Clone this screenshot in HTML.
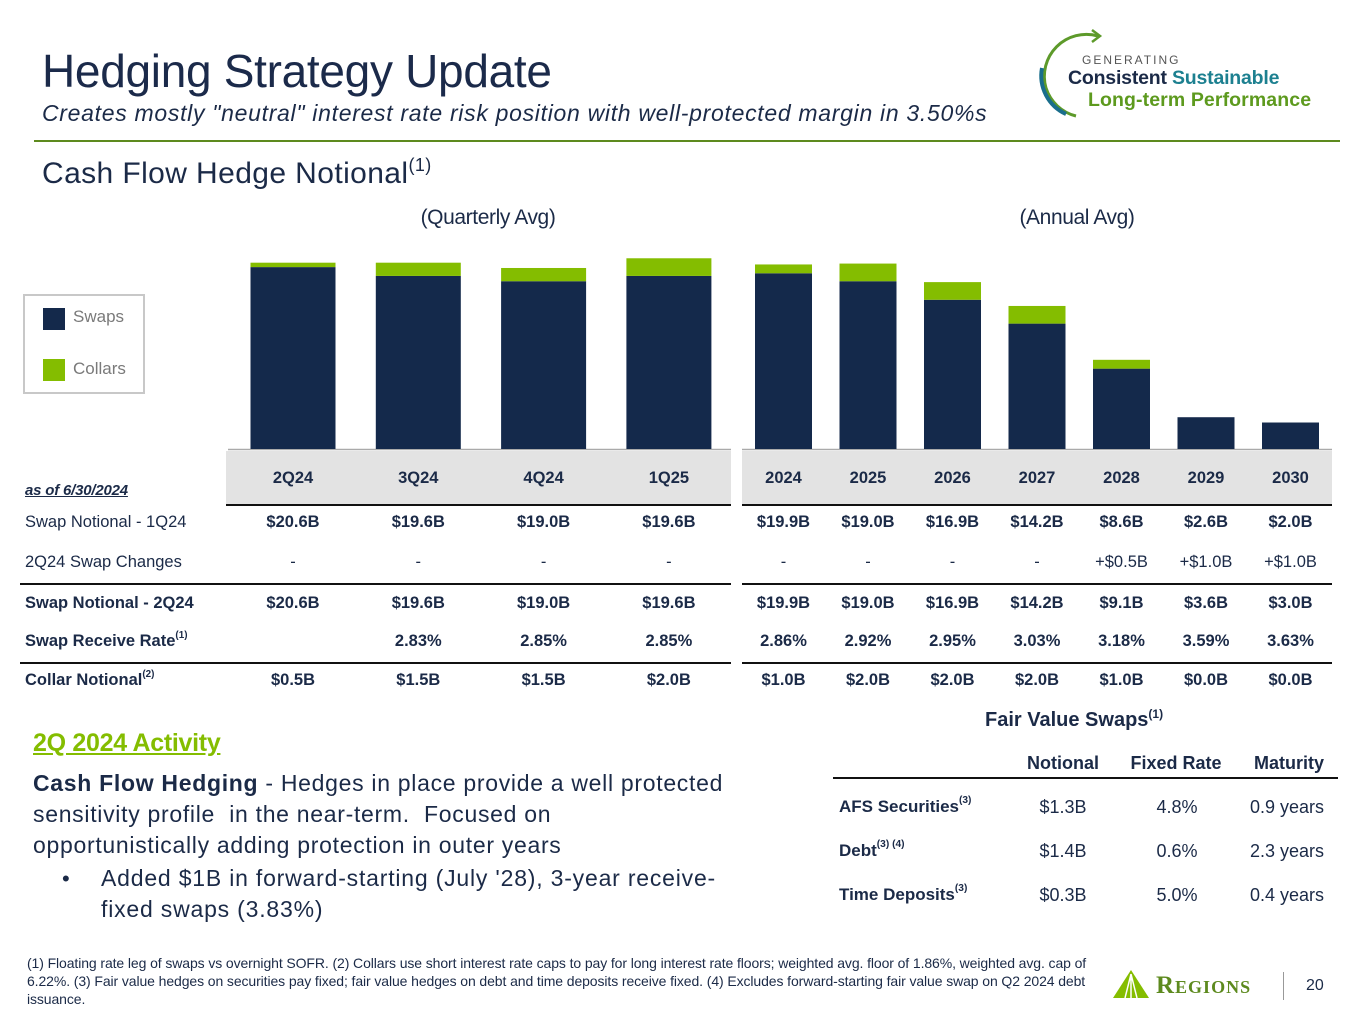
<!DOCTYPE html>
<html><head><meta charset="utf-8">
<style>
*{margin:0;padding:0;box-sizing:border-box}
body{width:1365px;height:1024px;background:#fff;position:relative;overflow:hidden;font-family:"Liberation Sans",sans-serif;color:#1b2a47}
.a{position:absolute;white-space:nowrap}
.c{transform:translateX(-50%);text-align:center}
.b{font-weight:bold}
sup{font-size:60%;vertical-align:top;position:relative;top:-2px}
.tx{font-size:16.5px;letter-spacing:0}
</style></head><body>
<div class="a" style="left:42px;top:44px;font-size:46px;letter-spacing:-0.3px;color:#1b2a4a">Hedging Strategy Update</div>
<div class="a" style="left:42px;top:100px;font-size:23px;font-style:italic;letter-spacing:0.7px">Creates mostly "neutral" interest rate risk position with well-protected margin in 3.50%s</div>
<div class="a" style="left:34px;top:140px;width:1306px;height:2px;background:#5d8a1e"></div>
<div class="a" style="left:42px;top:157px;font-size:30px;letter-spacing:0.4px">Cash Flow Hedge Notional<sup>(1)</sup></div>

<svg class="a" style="left:1036px;top:28px" width="70" height="90" viewBox="0 0 70 90">
<path d="M62 8 A42 42 0 0 0 10 60 A42 42 0 0 0 40 88" fill="none" stroke="#5d9a2a" stroke-width="3"/>
<path d="M56 2 L64 8 L56 14" fill="none" stroke="#5d9a2a" stroke-width="2.5"/>
<path d="M6 40 A42 42 0 0 0 30 86" fill="none" stroke="#1a6e8c" stroke-width="4"/>
</svg>
<div class="a" style="left:1082px;top:53px;font-size:12px;letter-spacing:2px;color:#555">GENERATING</div>
<div class="a b" style="left:1068px;top:67px;font-size:19.5px;letter-spacing:-0.2px;color:#1b2a47">Consistent <span style="color:#1d8090">Sustainable</span></div>
<div class="a b" style="left:1088px;top:89px;font-size:19.5px;letter-spacing:0.1px;color:#5d9a1e">Long-term Performance</div>

<div class="a c" style="left:488px;top:206px;font-size:21px;letter-spacing:-0.4px">(Quarterly Avg)</div>
<div class="a c" style="left:1077px;top:206px;font-size:21px;letter-spacing:-0.4px">(Annual Avg)</div>

<div class="a" style="left:23px;top:294px;width:122px;height:100px;border:2px solid #c8c8c8">
 <div class="a" style="left:18px;top:12px;width:22px;height:22px;background:#14294b"></div>
 <div class="a" style="left:48px;top:11px;font-size:17px;color:#7a7a7a">Swaps</div>
 <div class="a" style="left:18px;top:63px;width:22px;height:22px;background:#84bd00"></div>
 <div class="a" style="left:48px;top:63px;font-size:17px;color:#7a7a7a">Collars</div>
</div>

<svg id="chart" class="a" style="left:0;top:0" width="1365" height="460"></svg>

<div class="a" style="left:226px;top:451px;width:505px;height:53px;background:#e3e3e3"></div>
<div class="a" style="left:742px;top:451px;width:590px;height:53px;background:#e3e3e3"></div>
<div class="a" style="left:226px;top:504px;width:505px;height:2px;background:#111"></div>
<div class="a" style="left:742px;top:504px;width:590px;height:2px;background:#111"></div>
<div class="a" style="left:20px;top:583px;width:711px;height:2px;background:#111"></div>
<div class="a" style="left:742px;top:583px;width:590px;height:2px;background:#111"></div>
<div class="a" style="left:20px;top:662px;width:711px;height:2px;background:#111"></div>
<div class="a" style="left:742px;top:662px;width:590px;height:2px;background:#111"></div>
<div class="a b" style="left:25px;top:482px;font-size:15px;font-style:italic;text-decoration:underline;letter-spacing:-0.2px">as of 6/30/2024</div>
<div id="tbl"></div>

<div class="a b" style="left:985px;top:709px;font-size:20px;letter-spacing:0">Fair Value Swaps<sup>(1)</sup></div>
<div class="a b c" style="left:1063px;top:753px;font-size:18px">Notional</div>
<div class="a b c" style="left:1176px;top:753px;font-size:18px">Fixed Rate</div>
<div class="a b c" style="left:1289px;top:753px;font-size:18px">Maturity</div>
<div class="a" style="left:833px;top:777px;width:505px;height:2px;background:#111"></div>
<div class="a b" style="left:839px;top:797px;font-size:17px">AFS Securities<sup>(3)</sup></div>
<div class="a b" style="left:839px;top:841px;font-size:17px">Debt<sup>(3) (4)</sup></div>
<div class="a b" style="left:839px;top:885px;font-size:17px">Time Deposits<sup>(3)</sup></div>
<div class="a c" style="left:1063px;top:797px;font-size:18px">$1.3B</div>
<div class="a c" style="left:1177px;top:797px;font-size:18px">4.8%</div>
<div class="a c" style="left:1287px;top:797px;font-size:18px">0.9 years</div>
<div class="a c" style="left:1063px;top:841px;font-size:18px">$1.4B</div>
<div class="a c" style="left:1177px;top:841px;font-size:18px">0.6%</div>
<div class="a c" style="left:1287px;top:841px;font-size:18px">2.3 years</div>
<div class="a c" style="left:1063px;top:885px;font-size:18px">$0.3B</div>
<div class="a c" style="left:1177px;top:885px;font-size:18px">5.0%</div>
<div class="a c" style="left:1287px;top:885px;font-size:18px">0.4 years</div>

<div class="a b" style="left:33px;top:729px;font-size:25px;color:#84bd00;text-decoration:underline;letter-spacing:-0.3px">2Q 2024 Activity</div>
<div class="a" style="left:33px;top:768px;font-size:23px;line-height:31px;letter-spacing:0.7px"><b>Cash Flow Hedging</b> - Hedges in place provide a well protected<br>sensitivity profile&nbsp; in the near-term.&nbsp; Focused on<br>opportunistically adding protection in outer years</div>
<div class="a" style="left:62px;top:863px;font-size:22px;line-height:31px">•</div>
<div class="a" style="left:101px;top:863px;font-size:23px;line-height:31px;letter-spacing:0.8px">Added $1B in forward-starting (July '28), 3-year receive-<br>fixed swaps (3.83%)</div>

<div class="a" style="left:27px;top:954px;width:1080px;font-size:14px;line-height:18px;letter-spacing:-0.1px;white-space:normal">(1) Floating rate leg of swaps vs overnight SOFR. (2) Collars use short interest rate caps to pay for long interest rate floors; weighted avg. floor of 1.86%, weighted avg. cap of 6.22%. (3) Fair value hedges on securities pay fixed; fair value hedges on debt and time deposits receive fixed. (4) Excludes forward-starting fair value swap on Q2 2024 debt issuance.</div>

<svg class="a" style="left:1113px;top:970px" width="36" height="28"><polygon points="18,0 36,28 0,28" fill="#84bd00"/><path d="M18 4 L12 28 M18 4 L18 28 M18 4 L24 28" stroke="#fff" stroke-width="1.5"/></svg>
<div class="a" style="left:1156px;top:972px;font-family:'Liberation Serif',serif;font-weight:bold;font-size:25px;color:#5d8a1e;font-variant:small-caps;letter-spacing:1px">Regions</div>
<div class="a" style="left:1283px;top:972px;width:1px;height:28px;background:#999"></div>
<div class="a" style="left:1306px;top:977px;font-size:16px">20</div>

<script>
const categories=["2Q24","3Q24","4Q24","1Q25","2024","2025","2026","2027","2028","2029","2030"];
const swaps=[20.6,19.6,19.0,19.6,19.9,19.0,16.9,14.2,9.1,3.6,3.0];
const collars=[0.5,1.5,1.5,2.0,1.0,2.0,2.0,2.0,1.0,0.0,0.0];
const rowSwap1Q=["$20.6B","$19.6B","$19.0B","$19.6B","$19.9B","$19.0B","$16.9B","$14.2B","$8.6B","$2.6B","$2.0B"];
const rowChanges=["-","-","-","-","-","-","-","-","+$0.5B","+$1.0B","+$1.0B"];
const rowSwap2Q=["$20.6B","$19.6B","$19.0B","$19.6B","$19.9B","$19.0B","$16.9B","$14.2B","$9.1B","$3.6B","$3.0B"];
const rowRate=["","2.83%","2.85%","2.85%","2.86%","2.92%","2.95%","3.03%","3.18%","3.59%","3.63%"];
const rowCollar=["$0.5B","$1.5B","$1.5B","$2.0B","$1.0B","$2.0B","$2.0B","$2.0B","$1.0B","$0.0B","$0.0B"];

const base=449, pxPerB=8.83;
function yScale(v){return base-v*pxPerB;}
function xCenter(i){return i<4?293+i*125.3:783.5+(i-4)*84.5;}
function bw(i){return i<4?85:57;}
const svg=document.getElementById('chart');
const NS='http://www.w3.org/2000/svg';
function line(x1,x2,n){const l=document.createElementNS(NS,'line');
l.setAttribute('x1',x1);l.setAttribute('x2',x2);l.setAttribute('y1',base+0.5);l.setAttribute('y2',base+0.5);
l.setAttribute('stroke','#aaa');l.setAttribute('stroke-width','1.5');


svg.appendChild(l);}
line(228,731,'baseline-quarterly');line(742,1332,'baseline-annual');
categories.forEach((c,i)=>{
 const x=xCenter(i)-bw(i)/2;
 const r=document.createElementNS(NS,'rect');
 r.setAttribute('x',x);r.setAttribute('width',bw(i));
 r.setAttribute('y',yScale(swaps[i]));r.setAttribute('height',swaps[i]*pxPerB);
 r.setAttribute('fill','#14294b');
 
 
 svg.appendChild(r);
 if(collars[i]>0){
 const g=document.createElementNS(NS,'rect');
 g.setAttribute('x',x);g.setAttribute('width',bw(i));
 g.setAttribute('y',yScale(swaps[i]+collars[i]));g.setAttribute('height',collars[i]*pxPerB);
 g.setAttribute('fill','#84bd00');
 
 
 svg.appendChild(g);}
});
const tbl=document.getElementById('tbl');
function cell(txt,x,y,bold,name,left){
 const d=document.createElement('div');
 d.className='a tx'+(bold?' b':'')+(left?'':' c');
 d.style.left=x+'px';d.style.top=y+'px';
 d.innerHTML=txt;
 
 
 tbl.appendChild(d);}
const rows=[
 {label:"Swap Notional - 1Q24",vals:rowSwap1Q,y:513,lb:false,vb:true,n:'swap-notional-1q24'},
 {label:"2Q24 Swap Changes",vals:rowChanges,y:553,lb:false,vb:false,n:'swap-changes'},
 {label:"Swap Notional - 2Q24",vals:rowSwap2Q,y:594,lb:true,vb:true,n:'swap-notional-2q24'},
 {label:"Swap Receive Rate<sup>(1)</sup>",vals:rowRate,y:632,lb:true,vb:true,n:'swap-receive-rate'},
 {label:"Collar Notional<sup>(2)</sup>",vals:rowCollar,y:671,lb:true,vb:true,n:'collar-notional'}];
categories.forEach((c,i)=>cell(c,xCenter(i),469,true,'col-header-'+c,false));
rows.forEach(r=>{
 cell(r.label,25,r.y,r.lb,r.n+'-label',true);
 r.vals.forEach((v,i)=>cell(v,xCenter(i),r.y,r.vb,r.n+'-'+categories[i],false));
});
</script>
</body></html>
